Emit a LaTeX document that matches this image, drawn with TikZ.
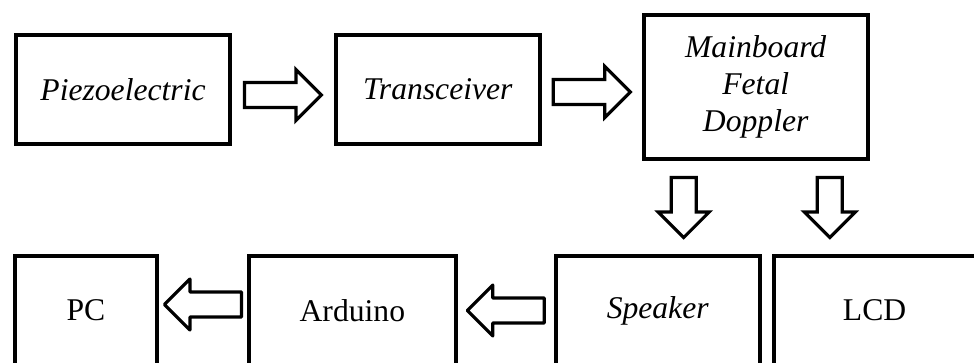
\documentclass[tikz,border=0pt]{standalone}
\usepackage{fontspec}
\setmainfont{Liberation Serif}
\usetikzlibrary{positioning,calc}

\begin{document}
\begin{tikzpicture}[node distance=2cm, font=\fontsize{18}{21}\selectfont]
  \tikzset{
    blk/.style={rectangle,draw=black,line width=2.2pt,minimum height=2.18cm,align=center,inner sep=2pt},
    fatarr/.style={line width=1.8pt,to path={
      let \p1=(\tikztostart), \p2=(\tikztotarget), \p3=($(\p1)!.5!(\p2)$), \n1={atan2(\y2-\y1,\x2-\x1)} in
      {[shift={(\p3)},rotate=\n1]
        (-#1/2,-0.25) -- (#1/2-0.51,-0.25) -- (#1/2-0.51,-0.51) -- (#1/2,0)
        -- (#1/2-0.51,0.51) -- (#1/2-0.51,0.25) -- (-#1/2,0.25) -- cycle}}},
    fatarr/.default=1.54
  }
  \clip (0,-7.24) rectangle (19.48,0);
  \fill[white] (0,-7.24) rectangle (19.48,0);

  \node[blk,minimum width=4.28cm] (piezo) at (2.46,-1.79) {\textit{Piezoelectric}};
  \node[blk,minimum width=4.08cm,right=2.04cm of piezo] (trans) {\textit{Transceiver}};
  \node[blk,minimum width=4.48cm,minimum height=2.88cm,right=2.0cm of trans,yshift=0.05cm] (main) {\textit{Mainboard}\\\textit{Fetal}\\\textit{Doppler}};

  \node[blk,minimum width=2.84cm] (pc) at (1.72,-6.21) {PC};
  \node[blk,minimum width=4.14cm,right=1.76cm of pc] (ard) {Arduino};
  \node[blk,minimum width=4.08cm,right=1.92cm of ard] (spk) {\textit{Speaker}};
  \node[blk,minimum width=4.04cm,right=0.2cm of spk] (lcd) {LCD};

  \coordinate (d1) at ($(main.south west)!.184!(main.south east)$);
  \coordinate (d2) at ($(main.south west)!.825!(main.south east)$);

  \draw[fatarr] ([yshift=-0.11cm]piezo.east) to ([yshift=-0.11cm]trans.west);
  \draw[fatarr] ([yshift=-0.05cm]trans.east) to ([yshift=-0.05cm]trans.east -| main.west);
  \draw[fatarr=1.2] (d1) to (d1 |- spk.north);
  \draw[fatarr=1.2] (d2) to (d2 |- lcd.north);
  \draw[fatarr,line join=round] (spk.west) to (ard.east);
  \draw[fatarr,line join=round] ([yshift=0.12cm]ard.west) to ([yshift=0.12cm]pc.east);
\end{tikzpicture}
\end{document}
